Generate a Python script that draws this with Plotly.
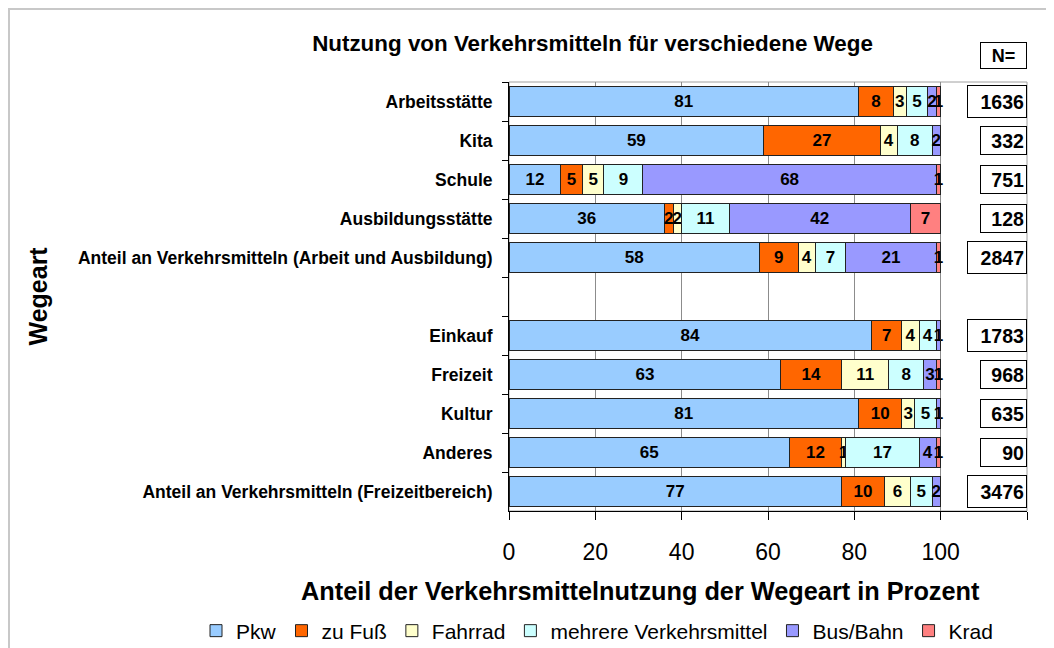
import plotly.graph_objects as go

categories = [
    "Arbeitsstätte",
    "Kita",
    "Schule",
    "Ausbildungsstätte",
    "Anteil an Verkehrsmitteln (Arbeit und Ausbildung)",
    " ",
    "Einkauf",
    "Freizeit",
    "Kultur",
    "Anderes",
    "Anteil an Verkehrsmitteln (Freizeitbereich)",
]

pkw = [81, 59, 12, 36, 58, None, 84, 63, 81, 65, 77]
zu_fuss = [8, 27, 5, 2, 9, None, 7, 14, 10, 12, 10]
fahrrad = [3, 4, 5, 2, 4, None, 4, 11, 3, 1, 6]
mehrere = [5, 8, 9, 11, 7, None, 4, 8, 5, 17, 5]
bus_bahn = [2, 2, 68, 42, 21, None, 1, 3, 1, 4, 2]
krad = [1, 0, 1, 7, 1, None, 0, 1, 0, 1, 0]

n_values = [1636, 332, 751, 128, 2847, None, 1783, 968, 635, 90, 3476]

series_names = ["Pkw", "zu Fuß", "Fahrrad", "mehrere Verkehrsmittel", "Bus/Bahn", "Krad"]
series_values = [pkw, zu_fuss, fahrrad, mehrere, bus_bahn, krad]
series_colors = ["#99CCFF", "#FF6600", "#FFFFCC", "#CCFFFF", "#9999FF", "#FF8080"]

x_ticks = [0, 20, 40, 60, 80, 100, 120]
x_ticktext = ["0", "20", "40", "60", "80", "100", ""]

FONT = "Arial, 'Liberation Sans', sans-serif"

# figure is drawn with the page's 8px body margin
W, H = 1046, 640
L, T, R, B = 501, 74, 27, 137
PW, PH = W - L - R, H - T - B

fig = go.Figure()
for name, vals, col in zip(series_names, series_values, series_colors):
    txt = [str(v) if (v is not None and v > 0) else "" for v in vals]
    fig.add_trace(go.Bar(
        y=categories, x=vals, name=name, orientation="h",
        marker=dict(color=col, line=dict(color="#222222", width=1)),
        text=txt, textposition="inside", insidetextanchor="middle",
        constraintext="none",
        textfont=dict(family=FONT, size=17, color="black", weight="bold"),
        textangle=0,
        hoverinfo="x+y+name",
    ))

# N boxes
for cat, n in zip(categories, n_values):
    if n is None:
        continue
    s = str(n)
    big = len(s) >= 4
    fig.add_annotation(
        xref="paper", x=1, xanchor="right", yref="y", y=cat, yanchor="middle",
        text=f"<b>{s}</b>", showarrow=False, align="right",
        font=dict(family=FONT, size=19.5, color="black"),
        bordercolor="black", borderwidth=1, borderpad=2, bgcolor="white",
        width=54 if big else 41, height=27 if big else 23,
    )

fig.add_annotation(
    xref="paper", x=1, xanchor="right", yref="paper", y=1, yanchor="middle", yshift=27,
    text="<b>N=</b>", showarrow=False, align="center",
    font=dict(family=FONT, size=18, color="black"),
    bordercolor="black", borderwidth=1, borderpad=2, bgcolor="white",
    width=41, height=21,
)

# axis titles
fig.add_annotation(
    xref="paper", x=(632 - L) / PW, xanchor="center",
    yref="paper", y=0, yanchor="middle", yshift=-80,
    text="<b>Anteil der Verkehrsmittelnutzung der Wegeart in Prozent</b>",
    showarrow=False, font=dict(family=FONT, size=25.3, color="black"),
)
fig.add_annotation(
    xref="paper", x=0, xanchor="center", xshift=-472,
    yref="paper", y=0.5, yanchor="middle",
    text="<b>Wegeart</b>", textangle=-90,
    showarrow=False, font=dict(family=FONT, size=25, color="black"),
)

# outer frame and plot border
fig.add_shape(type="rect", xref="paper", yref="paper",
              x0=(1 - L) / PW, x1=(W + 20 - L) / PW,
              y0=(PH + T - H - 20) / PH, y1=(PH + T - 1) / PH,
              line=dict(color="#C8C8C8", width=2), layer="below")
fig.add_shape(type="rect", xref="paper", yref="paper",
              x0=0, x1=1, y0=0, y1=1,
              line=dict(color="#A0A0A0", width=1), layer="below")

fig.update_layout(
    width=W, height=H,
    margin=dict(l=L, r=R, t=T, b=B, autoexpand=False),
    paper_bgcolor="white", plot_bgcolor="white",
    barmode="stack", bargap=0.23,
    font=dict(family=FONT, color="black"),
    title=dict(
        text="<b>Nutzung von Verkehrsmitteln für verschiedene Wege</b>",
        font=dict(family=FONT, size=22.4, color="black"),
        xref="container", x=584.5 / W, xanchor="center",
        yref="container", y=1 - 35 / H, yanchor="middle",
    ),
    xaxis=dict(
        range=[0, 120], tickvals=x_ticks, ticktext=x_ticktext,
        showgrid=True, gridcolor="#8C8C8C", gridwidth=1,
        showline=True, linecolor="black", linewidth=1,
        ticks="outside", ticklen=8, tickcolor="black",
        tickfont=dict(family=FONT, size=23, color="black"),
        ticklabelstandoff=12, zeroline=False,
    ),
    yaxis=dict(
        categoryorder="array", categoryarray=categories, autorange="reversed",
        showline=True, linecolor="black", linewidth=1,
        ticks="outside", ticklen=6, tickcolor="black", tickson="boundaries",
        tickfont=dict(family=FONT, size=17.5, color="black", weight="bold"),
        ticklabelstandoff=12, showgrid=False,
    ),
    legend=dict(
        orientation="h", xref="paper", yref="paper",
        x=(188 - L) / PW, xanchor="left", y=(T + PH - 623) / PH, yanchor="middle",
        font=dict(family=FONT, size=21, color="black"),
        traceorder="normal", itemclick=False,
    ),
    showlegend=True,
)

fig.write_html("out.html")
